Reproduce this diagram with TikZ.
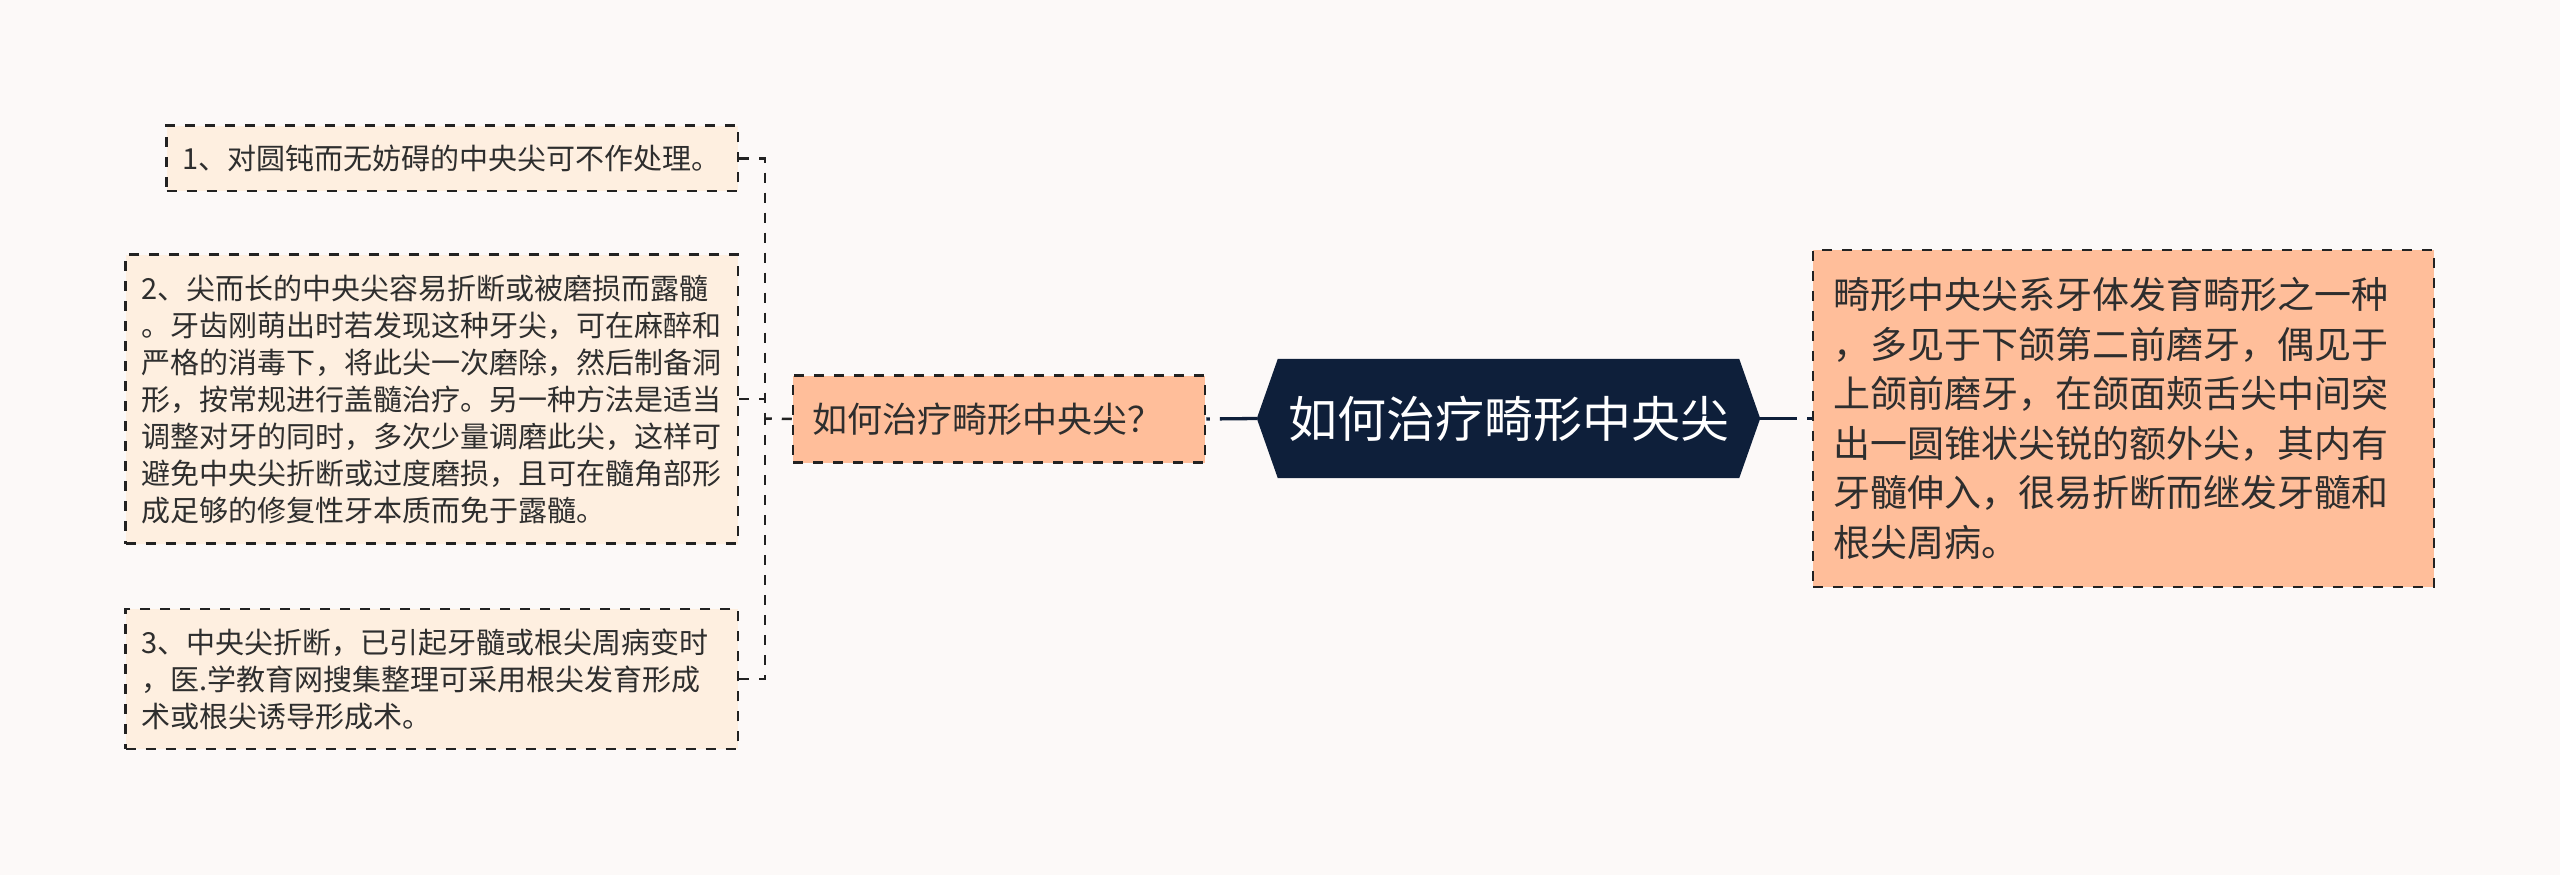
\documentclass[tikz,border=0pt]{standalone}
\usepackage{fontspec}
\newfontfamily\cjk{Noto Sans CJK SC}
\usetikzlibrary{backgrounds}
\definecolor{bgcol}{HTML}{FCF9F8}
\definecolor{leafcol}{HTML}{FEEFE0}
\definecolor{peach}{HTML}{FFBE9A}
\definecolor{navy}{HTML}{0E1F3A}
\definecolor{inkcol}{HTML}{2E2E2E}
\definecolor{linecol}{HTML}{222222}
\tikzset{
  leafbox/.style={draw=linecol, line width=2.5pt, dash pattern=on 10pt off 10pt,
    fill=leafcol, text=inkcol, align=left, inner ysep=0pt,
    font=\cjk\fontsize{29pt}{37pt}\selectfont},
  peachbox/.style={draw=linecol, line width=2.5pt, dash pattern=on 10pt off 10pt,
    fill=peach, text=inkcol, align=left, inner ysep=0pt},
  rootbox/.style={text=white, inner sep=0pt, font=\cjk\fontsize{49pt}{58pt}\selectfont},
  conn/.style={draw=linecol, line width=2.5pt, dash pattern=on 10pt off 10pt},
  rootconn/.style={draw=navy, line width=3.3pt, dash pattern=on 37pt off 10pt}
}
\begin{document}
\begin{tikzpicture}[x=1pt,y=-1pt]
\useasboundingbox (0,0) rectangle (2560,875);
\begin{scope}[on background layer]
\fill[bgcol] (0,0) rectangle (2560,875);
\end{scope}

% leaves on the left
\node[leafbox, text width=540.5pt, inner xsep=15.5pt, minimum width=571.5pt, minimum height=65.3pt]
  (b1) at (452.25,158.3) {1、对圆钝而无妨碍的中央尖可不作处理。};
\node[leafbox, text width=581.3pt, inner xsep=15.5pt, minimum width=612.3pt, minimum height=289pt]
  (b2) at (431.85,399.2) {2、尖而长的中央尖容易折断或被磨损而露髓\\。牙齿刚萌出时若发现这种牙尖，可在麻醉和\\严格的消毒下，将此尖一次磨除，然后制备洞\\形，按常规进行盖髓治疗。另一种方法是适当\\调整对牙的同时，多次少量调磨此尖，这样可\\避免中央尖折断或过度磨损，且可在髓角部形\\成足够的修复性牙本质而免于露髓。};
\node[leafbox, text width=581.3pt, inner xsep=15.5pt, minimum width=612.3pt, minimum height=140pt]
  (b3) at (431.85,679) {3、中央尖折断，已引起牙髓或根尖周病变时\\，医.学教育网搜集整理可采用根尖发育形成\\术或根尖诱导形成术。};

% middle topic
\node[peachbox, font=\cjk\fontsize{35pt}{42pt}\selectfont, text width=374pt, inner xsep=19pt,
  minimum width=412pt, minimum height=87pt] (mid) at (999,419) {如何治疗畸形中央尖？};

% root
\node[rootbox, minimum width=503pt, minimum height=119pt] (root) at (1508.5,418.5) {如何治疗畸形中央尖};
\begin{scope}[on background layer]
\fill[navy] (root.west) -- ([xshift=21pt]root.north west) -- ([xshift=-21pt]root.north east)
  -- (root.east) -- ([xshift=-21pt]root.south east) -- ([xshift=21pt]root.south west) -- cycle;
\end{scope}

% right description
\node[peachbox, font=\cjk\fontsize{37pt}{49.6pt}\selectfont, text width=580pt, inner xsep=20.5pt,
  minimum width=621pt, minimum height=337pt] (rb) at (2123.5,418.5) {畸形中央尖系牙体发育畸形之一种\\，多见于下颌第二前磨牙，偶见于\\上颌前磨牙，在颌面颊舌尖中间突\\出一圆锥状尖锐的额外尖，其内有\\牙髓伸入，很易折断而继发牙髓和\\根尖周病。};

% connectors
\coordinate (tj) at (765,418.5);
\draw[conn] (mid.west) -- (tj);
\draw[conn] (b1.east) -| (tj);
\draw[conn] (b2.east) -| (tj);
\draw[conn] (b3.east) -| (tj);
\draw[rootconn] (root.west) -- (mid.east);
\draw[rootconn] (root.east) -- (rb.west);
\end{tikzpicture}
\end{document}
